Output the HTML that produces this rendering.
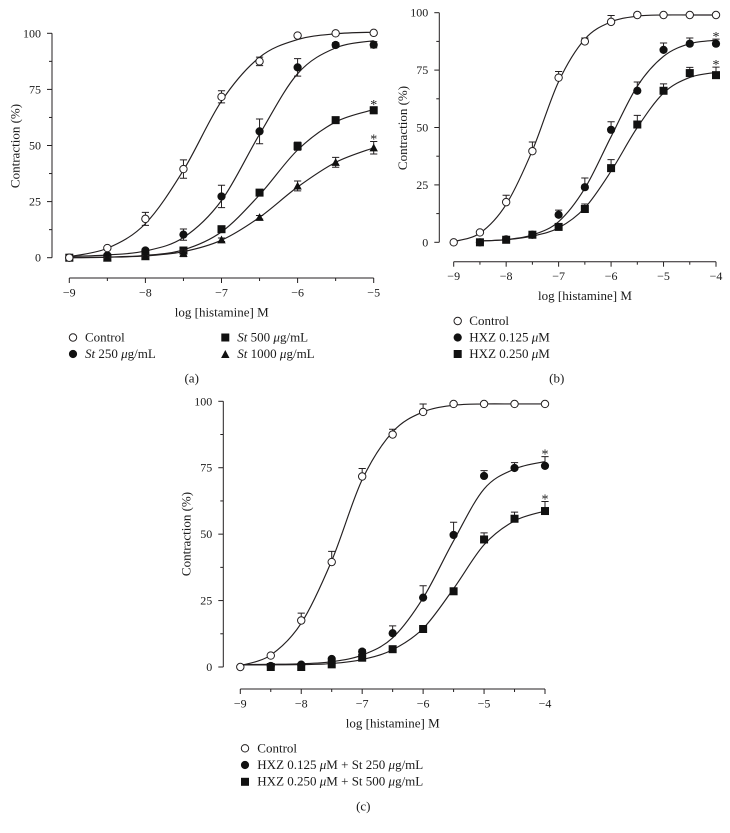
<!DOCTYPE html>
<html lang="en">
<head>
<meta charset="utf-8">
<title>Histamine concentration-response curves</title>
<style>
html,body{margin:0;padding:0;background:#fff;}
#figure{display:block;width:730px;height:833px;background:#fff;}
text{font-family:"Liberation Serif",serif;font-size:13px;fill:#1a1a1a;}
text.tick{font-size:12px;}
text.star{font-size:14px;}
</style>
</head>
<body>
<svg id="figure" xmlns="http://www.w3.org/2000/svg" width="730" height="833" viewBox="0 0 730 833">
  <g id="panel-a"></g>
  <g id="panel-b"></g>
  <g id="panel-c"></g>

  <g>
    <g><circle cx="73" cy="337.5" r="3.7" fill="#fff" stroke="#231f20" stroke-width="1"/><text x="85" y="341.5">Control</text></g>
    <g><circle cx="73" cy="354" r="4.1" fill="#111"/><text x="85" y="358"><tspan font-style="italic">St</tspan> 250 <tspan font-style="italic">μ</tspan>g/mL</text></g>
    <g><rect x="221.3" y="333.5" width="8" height="8" fill="#111"/><text x="237.3" y="341.5"><tspan font-style="italic">St</tspan> 500 <tspan font-style="italic">μ</tspan>g/mL</text></g>
    <g><polygon points="225.3,350 229.5,358 221.1,358" fill="#111"/><text x="237.3" y="358"><tspan font-style="italic">St</tspan> 1000 <tspan font-style="italic">μ</tspan>g/mL</text></g>
  </g>
  <text x="191.7" y="382.5" text-anchor="middle">(a)</text>

  <g>
    <g><circle cx="457.7" cy="321" r="3.7" fill="#fff" stroke="#231f20" stroke-width="1"/><text x="469.3" y="325">Control</text></g>
    <g><circle cx="457.7" cy="337.5" r="4.1" fill="#111"/><text x="469.3" y="341.5">HXZ 0.125 <tspan font-style="italic">μ</tspan>M</text></g>
    <g><rect x="453.7" y="350" width="8" height="8" fill="#111"/><text x="469.3" y="358">HXZ 0.250 <tspan font-style="italic">μ</tspan>M</text></g>
  </g>
  <text x="556.7" y="382.5" text-anchor="middle">(b)</text>

  <g>
    <g><circle cx="245" cy="748.3" r="3.7" fill="#fff" stroke="#231f20" stroke-width="1"/><text x="257.3" y="752.3">Control</text></g>
    <g><circle cx="245" cy="765" r="4.1" fill="#111"/><text x="257.3" y="769">HXZ 0.125 <tspan font-style="italic">μ</tspan>M + St 250 <tspan font-style="italic">μ</tspan>g/mL</text></g>
    <g><rect x="241" y="777.8" width="8" height="8" fill="#111"/><text x="257.3" y="785.7">HXZ 0.250 <tspan font-style="italic">μ</tspan>M + St 500 <tspan font-style="italic">μ</tspan>g/mL</text></g>
  </g>
  <text x="363.3" y="810.7" text-anchor="middle">(c)</text>
</svg>

<script>
// ---------- shared tick labels ----------
const yTickValues = [0, 25, 50, 75, 100];
const yMinorTickValues = [12.5, 37.5, 62.5, 87.5];
const xTicksA = [-9, -8, -7, -6, -5];
const xMinorTicksA = [-8.5, -7.5, -6.5, -5.5];
const xTicksBC = [-9, -8, -7, -6, -5, -4];
const xMinorTicksBC = [-8.5, -7.5, -6.5, -5.5, -4.5];

// ---------- panel (a) data ----------
const logDoseA = [-9, -8.5, -8, -7.5, -7, -6.5, -6, -5.5, -5];
const aControl = [0, 4.3, 17.3, 39.5, 71.7, 87.5, 99, 100, 100.2];
const aControlErr = [0.6, 0.6, 2.9, 4.1, 2.7, 1.9, 0.7, 0.5, 0.5];
const aControlFit = [0.5, 4.2, 15.2, 39, 69.8, 89.3, 97.2, 99.8, 100.5];
const aSt250 = [0, 1, 3.2, 10.3, 27.3, 56.3, 84.8, 94.8, 94.9];
const aSt250Err = [0.4, 0.5, 0.8, 2.5, 5, 5.5, 3.9, 1, 1.4];
const aSt250Fit = [0.5, 1.2, 3, 9, 25.5, 55, 82, 93.5, 96.7];
const aSt500 = [0, 0, 0.7, 3.2, 12.7, 29, 49.7, 61.3, 65.7];
const aSt500Err = [0.3, 0.3, 0.5, 0.8, 1.2, 1.2, 1.8, 1.3, 1.5];
const aSt500Fit = [0, 0.3, 1, 3.5, 11.5, 28, 48, 60.5, 66];
const aSt1000 = [0, 0, 0.5, 2, 8, 18, 32, 42.5, 49];
const aSt1000Err = [0.3, 0.3, 0.4, 1.5, 0.8, 0.8, 2.2, 2.2, 2.8];
const aSt1000Fit = [0, 0.2, 0.8, 2.7, 7.8, 18, 31.5, 42.5, 49];

// ---------- panel (b) data ----------
const logDoseB = [-9, -8.5, -8, -7.5, -7, -6.5, -6, -5.5, -5, -4.5, -4];
const logDoseBDrug = [-8.5, -8, -7.5, -7, -6.5, -6, -5.5, -5, -4.5, -4];
const bControl = [0, 4.3, 17.5, 39.7, 71.7, 87.5, 96, 99, 99, 99, 99];
const bControlErr = [0.4, 0.5, 3, 4, 2.7, 1.5, 2.8, 0.8, 0.3, 0.3, 0.3];
const bControlFit = [0.3, 4, 16.5, 40, 70, 88.5, 96, 98.5, 99, 99, 99];
const bHxz125 = [0, 1.3, 3.3, 12, 24, 49, 66, 83.8, 86.5, 86.5];
const bHxz125Err = [0.4, 0.5, 0.5, 2, 4, 3.5, 3.8, 3, 2.5, 2];
const bHxz125Fit = [0.6, 1.2, 3.2, 9, 23.5, 46, 68, 81, 86.5, 88];
const bHxz250 = [0, 1.1, 3.3, 6.7, 14.5, 32.3, 51.3, 66, 73.7, 72.8];
const bHxz250Err = [0.4, 0.5, 0.5, 0.5, 2.2, 3.7, 4, 3, 2.5, 3.5];
const bHxz250Fit = [0.6, 1.1, 2.7, 6.3, 15, 31, 50, 65, 71.8, 74];

// ---------- panel (c) data ----------
const logDoseC = [-9, -8.5, -8, -7.5, -7, -6.5, -6, -5.5, -5, -4.5, -4];
const logDoseCDrug = [-8.5, -8, -7.5, -7, -6.5, -6, -5.5, -5, -4.5, -4];
const cControl = [0, 4.3, 17.5, 39.5, 71.7, 87.5, 96, 99, 99, 99, 99];
const cControlErr = [0.4, 0.5, 2.8, 4, 3, 2, 3, 0.5, 0.3, 0.3, 0.3];
const cControlFit = [0.5, 4.5, 16.5, 40, 70.5, 88.5, 96, 98.5, 99, 99, 99];
const cMix250 = [0.4, 0.9, 3, 5.8, 12.7, 26.1, 49.7, 71.9, 74.9, 75.7];
const cMix250Err = [0.3, 0.4, 0.5, 0.8, 2.8, 4.5, 4.8, 2, 2, 3.5];
const cMix250Fit = [1, 1.2, 2, 4.5, 11, 26, 47.5, 67, 74.5, 77.3];
const cMix250FitStart = 0.9;
const cMix500 = [0, 0, 1, 3.5, 6.7, 14.3, 28.5, 48, 55.8, 58.7];
const cMix500Err = [0.3, 0.3, 0.4, 0.5, 0.6, 1, 1.2, 2.5, 2.5, 3.6];
const cMix500Fit = [0.8, 0.9, 1.3, 2.8, 6.5, 14.5, 29.5, 46, 55, 58.7];
const cMix500FitStart = 0.8;

// ---------- drawing ----------
const SVG_NS = 'http://www.w3.org/2000/svg';
const INK = '#231f20';

function make(parent, tag, attrs, text) {
  const node = document.createElementNS(SVG_NS, tag);
  for (const key in attrs) node.setAttribute(key, attrs[key]);
  if (text !== undefined) node.textContent = text;
  parent.appendChild(node);
  return node;
}

function linearScale(d0, d1, r0, r1) {
  return function (v) { return r0 + (v - d0) * (r1 - r0) / (d1 - d0); };
}

function splinePath(xs, ys, sx, sy) {
  const px = xs.map(sx);
  const py = ys.map(sy);
  let d = 'M' + px[0].toFixed(2) + ' ' + py[0].toFixed(2);
  for (let i = 0; i < px.length - 1; i++) {
    const p = Math.max(i - 1, 0);
    const n = Math.min(i + 2, px.length - 1);
    const c1x = px[i] + (px[i + 1] - px[p]) / 6;
    const c1y = py[i] + (py[i + 1] - py[p]) / 6;
    const c2x = px[i + 1] - (px[n] - px[i]) / 6;
    const c2y = py[i + 1] - (py[n] - py[i]) / 6;
    d += 'C' + c1x.toFixed(2) + ' ' + c1y.toFixed(2) + ' ' + c2x.toFixed(2) + ' ' + c2y.toFixed(2) + ' ' + px[i + 1].toFixed(2) + ' ' + py[i + 1].toFixed(2);
  }
  return d;
}

function drawMarker(parent, kind, cx, cy) {
  let el;
  if (kind === 'open') {
    el = make(parent, 'circle', { cx: cx, cy: cy, r: 3.7, fill: '#fff', stroke: INK, 'stroke-width': 1 });
  } else if (kind === 'circle') {
    el = make(parent, 'circle', { cx: cx, cy: cy, r: 4.1, fill: '#111' });
  } else if (kind === 'square') {
    el = make(parent, 'rect', { x: cx - 4, y: cy - 4, width: 8, height: 8, fill: '#111' });
  } else {
    el = make(parent, 'polygon', { points: cx + ',' + (cy - 4.2) + ' ' + (cx + 4.2) + ',' + (cy + 3.6) + ' ' + (cx - 4.2) + ',' + (cy + 3.6), fill: '#111' });
  }
  return el;
}

function drawPanel(p) {
  const root = document.getElementById(p.id);
  const sx = linearScale(p.xMin, p.xMax, p.x0, p.x1);
  const sy = linearScale(0, 100, p.y0, p.y100);

  // Y axis
  const yAxis = make(root, 'g', { stroke: INK, 'stroke-width': 1, fill: 'none' });
  
  
  make(yAxis, 'line', { x1: p.axisX, x2: p.axisX, y1: sy(0), y2: sy(100) });
  yTickValues.forEach(function (v) {
    make(yAxis, 'line', { x1: p.axisX - 5, x2: p.axisX, y1: sy(v), y2: sy(v) });
    const label = make(root, 'text', { class: 'tick', x: p.axisX - 11, y: sy(v) + 4, 'text-anchor': 'end' }, String(v));
    
    
  });
  yMinorTickValues.forEach(function (v) {
    make(yAxis, 'line', { x1: p.axisX - 3, x2: p.axisX, y1: sy(v), y2: sy(v) });
  });
  const yTitle = make(root, 'text', { transform: 'translate(' + p.yTitleX + ' ' + p.yTitleY + ') rotate(-90)', 'text-anchor': 'middle' }, 'Contraction (%)');
  
  

  // X axis
  const xAxis = make(root, 'g', { stroke: INK, 'stroke-width': 1, fill: 'none' });
  
  
  make(xAxis, 'line', { x1: sx(p.xMin), x2: sx(p.xMax), y1: p.axisY, y2: p.axisY });
  p.xTicks.forEach(function (v) {
    make(xAxis, 'line', { x1: sx(v), x2: sx(v), y1: p.axisY, y2: p.axisY + 5 });
    const label = make(root, 'text', { class: 'tick', x: sx(v), y: p.axisY + 18.5, 'text-anchor': 'middle' }, '\u2212' + Math.abs(v));
    
    
  });
  p.xMinorTicks.forEach(function (v) {
    make(xAxis, 'line', { x1: sx(v), x2: sx(v), y1: p.axisY, y2: p.axisY + 3 });
  });
  const xTitle = make(root, 'text', { x: p.xTitleX, y: p.xTitleY, 'text-anchor': 'middle' }, 'log [histamine] M');
  
  

  // Series
  p.series.forEach(function (s) {
    const g = make(root, 'g', {});
    
    

    const fitXs = s.fitX || s.x;
    const curve = make(g, 'path', { d: splinePath(fitXs, s.fit, sx, sy), fill: 'none', stroke: INK, 'stroke-width': 1.15 });
    
    

    s.x.forEach(function (xv, i) {
      const top = s.y[i] + s.err[i];
      const bottom = p.bothErrors ? s.y[i] - s.err[i] : s.y[i];
      const bar = make(g, 'path', {
        d: 'M' + sx(xv) + ' ' + sy(top) + 'V' + sy(bottom) +
           'M' + (sx(xv) - 3.6) + ' ' + sy(top) + 'h7.2' +
           (p.bothErrors ? 'M' + (sx(xv) - 3.6) + ' ' + sy(bottom) + 'h7.2' : ''),
        fill: 'none', stroke: INK, 'stroke-width': 1
      });
      
      
      const mark = drawMarker(g, s.marker, sx(xv), sy(s.y[i]));
      
      
    });

    if (s.star) {
      const last = s.x.length - 1;
      const star = make(g, 'text', { class: 'star', x: sx(s.x[last]), y: sy(s.y[last] + s.err[last]) + 2, 'text-anchor': 'middle' }, '*');
      
      
    }
  });
}

drawPanel({
  id: 'panel-a', xMin: -9, xMax: -5, x0: 69.3, x1: 373.7, y0: 257.7, y100: 33.3,
  axisX: 52, axisY: 278, yTitleX: 19.5, yTitleY: 146, xTitleX: 221.7, xTitleY: 316.7,
  xTicks: xTicksA, xMinorTicks: xMinorTicksA, bothErrors: true,
  series: [
    { name: 'st-250', marker: 'circle', x: logDoseA, y: aSt250, err: aSt250Err, fit: aSt250Fit },
    { name: 'st-500', marker: 'square', x: logDoseA, y: aSt500, err: aSt500Err, fit: aSt500Fit, star: true },
    { name: 'st-1000', marker: 'triangle', x: logDoseA, y: aSt1000, err: aSt1000Err, fit: aSt1000Fit, star: true },
    { name: 'control', marker: 'open', x: logDoseA, y: aControl, err: aControlErr, fit: aControlFit }
  ]
});

drawPanel({
  id: 'panel-b', xMin: -9, xMax: -4, x0: 453.7, x1: 716, y0: 242.3, y100: 12.7,
  axisX: 439.3, axisY: 261.7, yTitleX: 407, yTitleY: 128, xTitleX: 585, xTitleY: 300,
  xTicks: xTicksBC, xMinorTicks: xMinorTicksBC, bothErrors: false,
  series: [
    { name: 'hxz-0125', marker: 'circle', x: logDoseBDrug, y: bHxz125, err: bHxz125Err, fit: bHxz125Fit, star: true },
    { name: 'hxz-0250', marker: 'square', x: logDoseBDrug, y: bHxz250, err: bHxz250Err, fit: bHxz250Fit, star: true },
    { name: 'control', marker: 'open', x: logDoseB, y: bControl, err: bControlErr, fit: bControlFit }
  ]
});

drawPanel({
  id: 'panel-c', xMin: -9, xMax: -4, x0: 240.3, x1: 545, y0: 667, y100: 401.3,
  axisX: 223.3, axisY: 689, yTitleX: 190.5, yTitleY: 534, xTitleX: 392.7, xTitleY: 727.7,
  xTicks: xTicksBC, xMinorTicks: xMinorTicksBC, bothErrors: false,
  series: [
    { name: 'hxz-0125-st-250', marker: 'circle', x: logDoseCDrug, y: cMix250, err: cMix250Err, fit: [cMix250FitStart].concat(cMix250Fit), fitX: logDoseC, star: true },
    { name: 'hxz-0250-st-500', marker: 'square', x: logDoseCDrug, y: cMix500, err: cMix500Err, fit: [cMix500FitStart].concat(cMix500Fit), fitX: logDoseC, star: true },
    { name: 'control', marker: 'open', x: logDoseC, y: cControl, err: cControlErr, fit: cControlFit }
  ]
});
</script>
</body>
</html>
